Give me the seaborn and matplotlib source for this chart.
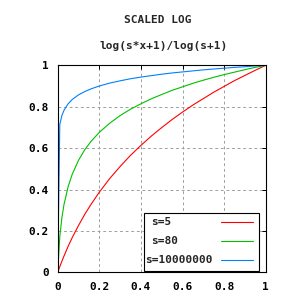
import matplotlib
matplotlib.use("Agg")
import matplotlib.pyplot as plt
import seaborn as sns
import pandas as pd
from matplotlib.lines import Line2D
from matplotlib.patches import Rectangle

# ---- data ----
x_vals = [0, 0.01, 0.02, 0.03, 0.05, 0.07, 0.1, 0.13, 0.16, 0.2, 0.25, 0.3, 0.35,
          0.4, 0.45, 0.5, 0.55, 0.6, 0.65, 0.7, 0.75, 0.8, 0.85, 0.9, 0.95, 1.0]
y_s5 = [0, 0.027, 0.053, 0.078, 0.125, 0.168, 0.226, 0.280, 0.328, 0.387, 0.453,
        0.511, 0.565, 0.613, 0.658, 0.699, 0.738, 0.774, 0.808, 0.839, 0.870,
        0.898, 0.926, 0.951, 0.976, 1.0]
y_s80 = [0, 0.171, 0.263, 0.326, 0.413, 0.474, 0.541, 0.592, 0.632, 0.676, 0.720,
         0.757, 0.788, 0.814, 0.838, 0.859, 0.879, 0.896, 0.913, 0.928, 0.942,
         0.955, 0.967, 0.979, 0.990, 1.0]
y_s1e7 = [0, 0.714, 0.757, 0.782, 0.814, 0.835, 0.857, 0.873, 0.886, 0.900, 0.914,
          0.925, 0.935, 0.943, 0.950, 0.957, 0.963, 0.968, 0.973, 0.978, 0.982,
          0.986, 0.990, 0.993, 0.997, 1.0]
series_labels = ["s=5", "s=80", "s=10000000"]
series_colors = ["#ff0000", "#00c000", "#0080ff"]
tick_vals = [0, 0.2, 0.4, 0.6, 0.8, 1]
tick_labels = ["0", "0.2", "0.4", "0.6", "0.8", "1"]
title_main = "SCALED LOG"
title_sub = "log(s*x+1)/log(s+1)"

sns.set_style("white")
plt.rcParams["font.family"] = ["DejaVu Sans Mono", "DejaVu Sans"]
plt.rcParams["font.weight"] = "bold"

W = H = 300
def fx(px):
    return px / W
def fy(py):
    return 1 - py / H

fig = plt.figure(figsize=(3, 3), dpi=100)
fig.patch.set_facecolor("white")
L, R, T, B = 57.7, 265.7, 65.3, 272.3
ax = fig.add_axes([fx(L), fy(B), (R - L) / W, (B - T) / H])

df = pd.DataFrame({
    "x": x_vals * 3,
    "y": y_s5 + y_s80 + y_s1e7,
    "series": [series_labels[0]] * len(x_vals) + [series_labels[1]] * len(x_vals)
              + [series_labels[2]] * len(x_vals),
})
sns.lineplot(data=df, x="x", y="y", hue="series", hue_order=series_labels,
             palette=dict(zip(series_labels, series_colors)), legend=False,
             estimator=None, sort=False, lw=0.8, ax=ax)

ax.set_xlim(0, 1)
ax.set_ylim(0, 1)
ax.set_xticks(tick_vals)
ax.set_yticks(tick_vals)
ax.set_xticklabels(tick_labels)
ax.set_yticklabels(tick_labels)
ax.set_xlabel("")
ax.set_ylabel("")
ax.grid(True, color="#a0a0a0", linestyle=(0, (2.8, 2.8)), lw=0.72)
ax.set_axisbelow(True)
ax.tick_params(direction="in", length=3.2, width=0.72, top=True, right=True,
               labelsize=8, colors="black")
ax.tick_params(axis="x", pad=7)
ax.tick_params(axis="y", pad=6.5)
for lab in ax.get_xticklabels() + ax.get_yticklabels():
    lab.set_fontweight("bold")
for sp in ax.spines.values():
    sp.set_visible(True)
    sp.set_color("black")
    sp.set_linewidth(0.8)

# titles
fig.text(fx(157.5), fy(20), title_main, ha="center", va="center",
         fontsize=8, fontweight="bold")
fig.text(fx(164), fy(45.7), title_sub, ha="center", va="center",
         fontsize=8, fontweight="bold")

# legend box (gnuplot-style key)
fig.add_artist(Rectangle((fx(144), fy(271)), (259 - 144) / W, (271 - 213) / H,
                         transform=fig.transFigure, facecolor="white",
                         edgecolor="black", lw=0.8, zorder=5))
rows_y = [222.3, 241.3, 260.3]
text_x = [150.7, 150.7, 145]
for lab, col, yy, tx in zip(series_labels, series_colors, rows_y, text_x):
    fig.text(fx(tx), fy(yy), lab, ha="left", va="center", fontsize=8,
             fontweight="bold", zorder=6)
    fig.add_artist(Line2D([fx(221), fx(252.7)], [fy(yy), fy(yy)],
                          transform=fig.transFigure, color=col, lw=0.8, zorder=6))

fig.savefig("out.png", dpi=100)
